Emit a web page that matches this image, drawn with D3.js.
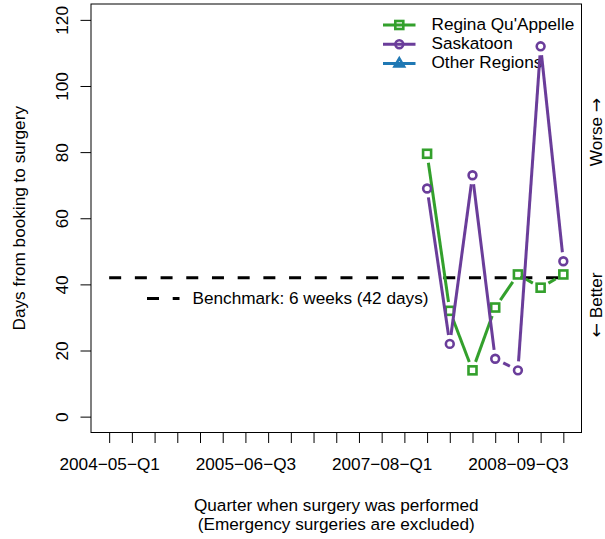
<!DOCTYPE html>
<html>
<head>
    <script src="https://d3js.org/d3.v7.min.js"></script>
    <style>
        body { margin: 0; background: #fff; }
        text { font-family: "Liberation Sans", Arial, sans-serif; fill: #000; }
    </style>
</head>
<body>
<div id="chart"></div>
<script>
    // all 21 quarters on the x axis
    const quarters = [
        "2004-05-Q1", "2004-05-Q2", "2004-05-Q3", "2004-05-Q4",
        "2005-06-Q1", "2005-06-Q2", "2005-06-Q3", "2005-06-Q4",
        "2006-07-Q1", "2006-07-Q2", "2006-07-Q3", "2006-07-Q4",
        "2007-08-Q1", "2007-08-Q2", "2007-08-Q3", "2007-08-Q4",
        "2008-09-Q1", "2008-09-Q2", "2008-09-Q3", "2008-09-Q4",
        "2009-10-Q1"
    ];
    const labelledQuarters = ["2004-05-Q1", "2005-06-Q3", "2007-08-Q1", "2008-09-Q3"];
    const dataQuarters = ["2007-08-Q3", "2007-08-Q4", "2008-09-Q1", "2008-09-Q2", "2008-09-Q3", "2008-09-Q4", "2009-10-Q1"];
    const regina = [79.5, 32, 14, 33, 43, 39, 43];
    const saskatoon = [69, 22, 73, 17.5, 14, 112, 47];
    const otherRegions = [];
    const yTicks = [0, 20, 40, 60, 80, 100, 120];
    const benchmark = 42;

    const series = [
        { name: "Regina Qu'Appelle", values: regina, color: "#33a02c", shape: "square" },
        { name: "Saskatoon", values: saskatoon, color: "#6a3d9a", shape: "circle" },
        { name: "Other Regions", values: otherRegions, color: "#1f78b4", shape: "triangle" }
    ];

    const W = 605, H = 539;
    const plotLeft = 91, plotRight = 581.5, plotTop = 4, plotBottom = 432.5;
    const fs = 17.2;

    const svg = d3.select("#chart").append("svg")
        .attr("width", W).attr("height", H);

    const x = d3.scaleLinear().domain([-0.8, quarters.length - 1 + 0.8]).range([plotLeft, plotRight]);
    const y = d3.scaleLinear().domain([-4.8, 124.8]).range([plotBottom, plotTop]);

    // x axis
    const xAxis = svg.append("g")
        .attr("transform", `translate(0,${plotBottom})`)
        .call(d3.axisBottom(x)
            .tickValues(d3.range(quarters.length))
            .tickSize(10.5).tickPadding(15)
            .tickFormat(i => labelledQuarters.includes(quarters[i]) ? quarters[i].replace(/-/g, "\u2212") : ""));
    xAxis.select(".domain").remove();
    xAxis.selectAll("text").style("font-size", fs + "px").attr("font-family", null);

    // y axis
    const yAxis = svg.append("g")
        .attr("transform", `translate(${plotLeft},0)`)
        .call(d3.axisLeft(y).tickValues(yTicks).tickSize(10.5).tickFormat(d3.format("d")));
    yAxis.select(".domain").remove();
    yAxis.selectAll("text")
        .style("font-size", fs + "px")
        .attr("x", null).attr("dy", null)
        .attr("text-anchor", "middle")
        .attr("transform", "translate(-27.5,0) rotate(-90)")
        .attr("y", 0)
        .attr("dominant-baseline", "middle");

    // frame
    svg.append("rect")
        .attr("x", plotLeft).attr("y", plotTop)
        .attr("width", plotRight - plotLeft).attr("height", plotBottom - plotTop)
        .attr("fill", "none").attr("stroke", "#000").attr("stroke-width", 1);

    // axis titles
    svg.append("text")
        .attr("transform", `translate(20,${(plotTop + plotBottom) / 2}) rotate(-90)`)
        .attr("text-anchor", "middle").attr("dominant-baseline", "middle")
        .style("font-size", fs + "px")
        .text("Days from booking to surgery");
    svg.append("text")
        .attr("x", (plotLeft + plotRight) / 2).attr("y", 506)
        .attr("text-anchor", "middle").attr("dominant-baseline", "middle")
        .style("font-size", fs + "px")
        .text("Quarter when surgery was performed");
    svg.append("text")
        .attr("x", (plotLeft + plotRight) / 2).attr("y", 525)
        .attr("text-anchor", "middle").attr("dominant-baseline", "middle")
        .style("font-size", fs + "px")
        .text("(Emergency surgeries are excluded)");

    // right side hints, arrows in a font with a full-size arrow glyph
    const worse = svg.append("text")
        .attr("transform", "translate(597,132) rotate(-90)")
        .attr("text-anchor", "middle").attr("dominant-baseline", "middle")
        .style("font-size", fs + "px");
    worse.append("tspan").text("Worse ");
    worse.append("tspan").style("font-family", "'DejaVu Sans'").text("\u2192");
    const better = svg.append("text")
        .attr("transform", "translate(597,305) rotate(-90)")
        .attr("text-anchor", "middle").attr("dominant-baseline", "middle")
        .style("font-size", fs + "px");
    better.append("tspan").style("font-family", "'DejaVu Sans'").text("\u2190");
    better.append("tspan").text(" Better");

    // benchmark
    svg.append("line")
        .attr("x1", x(0)).attr("x2", x(quarters.length - 1))
        .attr("y1", y(benchmark)).attr("y2", y(benchmark))
        .attr("stroke", "#000").attr("stroke-width", 3)
        .attr("stroke-dasharray", "12,13.7");
    svg.append("line")
        .attr("x1", 147).attr("x2", 179.5)
        .attr("y1", 298.5).attr("y2", 298.5)
        .attr("stroke", "#000").attr("stroke-width", 3)
        .attr("stroke-dasharray", "12,13.7");
    svg.append("text")
        .attr("x", 192.5).attr("y", 299)
        .attr("dominant-baseline", "middle")
        .style("font-size", fs + "px")
        .text("Benchmark: 6 weeks (" + benchmark + " days)");

    function drawMarker(g, shape, cx, cy, color) {
        if (shape === "square") {
            g.append("rect").attr("x", cx - 4).attr("y", cy - 4)
                .attr("width", 8).attr("height", 8)
                .attr("fill", "none").attr("stroke", color).attr("stroke-width", 2.6);
        } else if (shape === "circle") {
            g.append("circle").attr("cx", cx).attr("cy", cy).attr("r", 3.9)
                .attr("fill", "none").attr("stroke", color).attr("stroke-width", 2.6);
        } else {
            const r = 5;
            g.append("path")
                .attr("d", `M${cx},${cy - r}L${cx + r * 0.95},${cy + r * 0.6}L${cx - r * 0.95},${cy + r * 0.6}Z`)
                .attr("fill", "none").attr("stroke", color).attr("stroke-width", 2.6);
        }
    }

    // legend
    const legend = svg.append("g");
    series.forEach((s, i) => {
        const ly = 25 + i * 19.2;
        legend.append("line")
            .attr("x1", 383).attr("x2", 415.5).attr("y1", ly).attr("y2", ly)
            .attr("stroke", s.color).attr("stroke-width", 3);
        drawMarker(legend, s.shape, 399.3, ly, s.color);
        legend.append("text")
            .attr("x", 431.5).attr("y", ly)
            .attr("dominant-baseline", "middle")
            .style("font-size", fs + "px")
            .text(s.name);
    });

    // series drawn like R type = "b": segments with a gap around every point
    const gap = 9;
    series.forEach(s => {
        const g = svg.append("g");
        const pts = s.values.map((v, i) => [x(quarters.indexOf(dataQuarters[i])), y(v)]);
        for (let i = 0; i < pts.length - 1; i++) {
            const [x1, y1] = pts[i], [x2, y2] = pts[i + 1];
            const len = Math.hypot(x2 - x1, y2 - y1);
            if (len <= 2 * gap) continue;
            const ux = (x2 - x1) / len, uy = (y2 - y1) / len;
            g.append("line")
                .attr("x1", x1 + ux * gap).attr("y1", y1 + uy * gap)
                .attr("x2", x2 - ux * gap).attr("y2", y2 - uy * gap)
                .attr("stroke", s.color).attr("stroke-width", 3);
        }
        pts.forEach(([px, py]) => drawMarker(g, s.shape, px, py, s.color));
    });
</script>
</body>
</html>
